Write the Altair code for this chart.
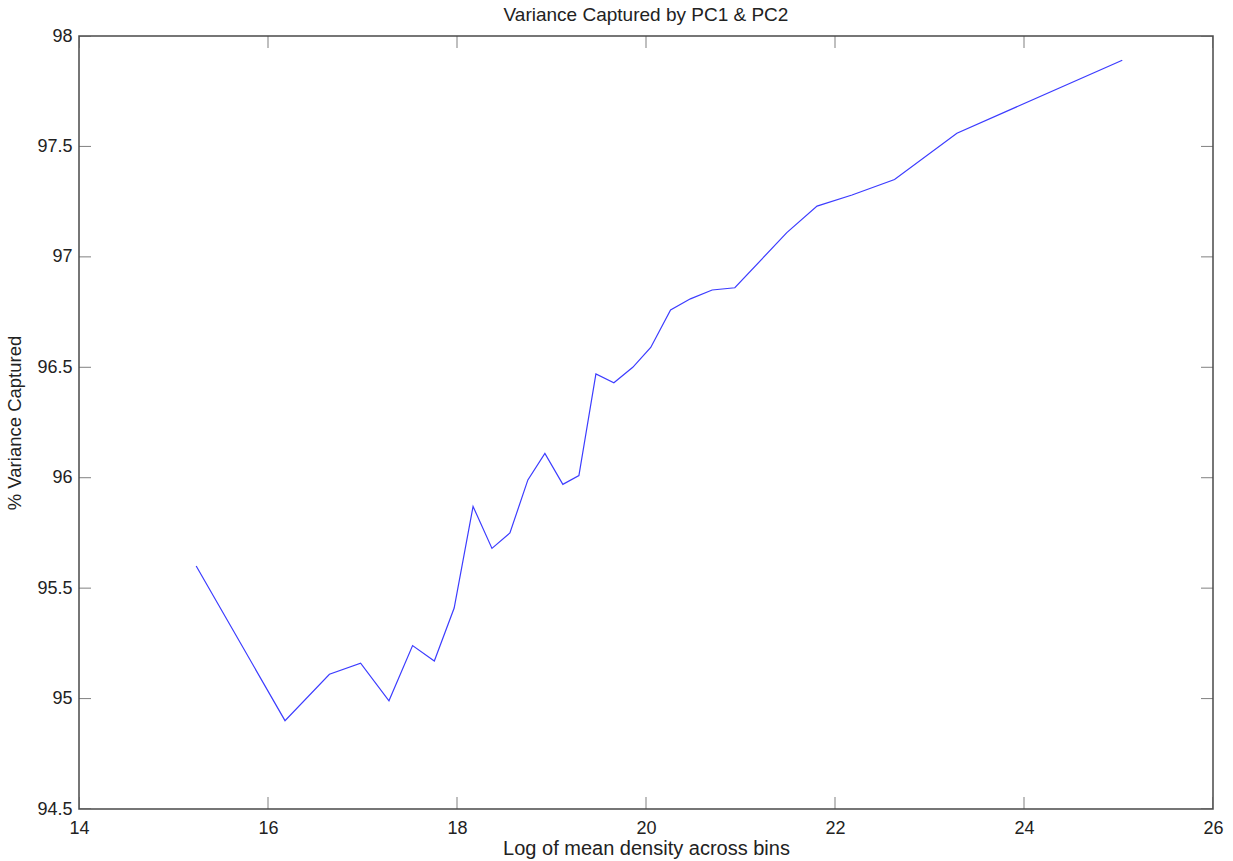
import altair as alt
import pandas as pd

# data
density = [15.24, 16.18, 16.65, 16.98, 17.28, 17.53, 17.76, 17.97, 18.17, 18.37,
           18.56, 18.75, 18.93, 19.12, 19.29, 19.47, 19.66, 19.86, 20.05, 20.26,
           20.47, 20.70, 20.94, 21.49, 21.81, 22.18, 22.63, 23.29, 25.04]
variance = [95.60, 94.90, 95.11, 95.16, 94.99, 95.24, 95.17, 95.41, 95.87, 95.68,
            95.75, 95.99, 96.11, 95.97, 96.01, 96.47, 96.43, 96.50, 96.59, 96.76,
            96.81, 96.85, 96.86, 97.11, 97.23, 97.28, 97.35, 97.56, 97.89]
x_ticks = [14, 16, 18, 20, 22, 24, 26]
y_ticks = [94.5, 95, 95.5, 96, 96.5, 97, 97.5, 98]
x_domain = [14, 26]
y_domain = [94.5, 98]

FONT = "Liberation Sans"
AXIS_COLOR = "#4a4a4a"
TEXT_COLOR = "#222222"

df = pd.DataFrame({"density": density, "variance": variance})
xt = pd.DataFrame([{"t": t, "edge": e} for t in x_ticks for e in y_domain])
yt = pd.DataFrame([{"t": t, "edge": e} for t in y_ticks for e in x_domain])

xscale = alt.Scale(domain=x_domain, nice=False, zero=False)
yscale = alt.Scale(domain=y_domain, nice=False, zero=False)

line = alt.Chart(df).mark_line(color="#3c3cff", strokeWidth=1.2).encode(
    x=alt.X("density:Q", scale=xscale,
            axis=alt.Axis(values=x_ticks, title="Log of mean density across bins",
                          ticks=False, tickSize=0, domain=False, grid=False,
                          labelPadding=10, titlePadding=1, format="~g",
                          labelFlush=False, labelOverlap=False,
                          labelFontSize=18, titleFontSize=20)),
    y=alt.Y("variance:Q", scale=yscale,
            axis=alt.Axis(values=y_ticks, title="% Variance Captured",
                          ticks=False, tickSize=0, domain=False, grid=False,
                          labelPadding=7, titlePadding=12, format="~g",
                          labelFlush=False, labelOverlap=False,
                          labelFontSize=18, titleFontSize=18.5)),
)

xticks = alt.Chart(xt).mark_tick(orient="vertical", size=24, thickness=1,
                                 color=AXIS_COLOR, clip=True).encode(
    x=alt.X("t:Q", scale=xscale),
    y=alt.Y("edge:Q", scale=yscale),
)
yticks = alt.Chart(yt).mark_tick(orient="horizontal", size=24, thickness=1,
                                 color=AXIS_COLOR, clip=True).encode(
    x=alt.X("edge:Q", scale=xscale),
    y=alt.Y("t:Q", scale=yscale),
)

chart = alt.layer(line, xticks, yticks).properties(
    width=1134, height=773,
    title=alt.TitleParams("Variance Captured by PC1 & PC2", fontSize=19,
                          font=FONT, color=TEXT_COLOR, fontWeight="normal",
                          offset=2),
    autosize=alt.AutoSizeParams(type="none"),
    padding={"left": 79, "top": 36, "right": 20, "bottom": 52},
    background="white",
).configure_view(
    stroke=AXIS_COLOR, strokeWidth=1.5
).configure_axis(
    labelFont=FONT, titleFont=FONT, labelColor=TEXT_COLOR, titleColor=TEXT_COLOR,
    titleFontWeight="normal"
)

chart.save("out.html", embed_options={"renderer": "svg", "actions": False})
